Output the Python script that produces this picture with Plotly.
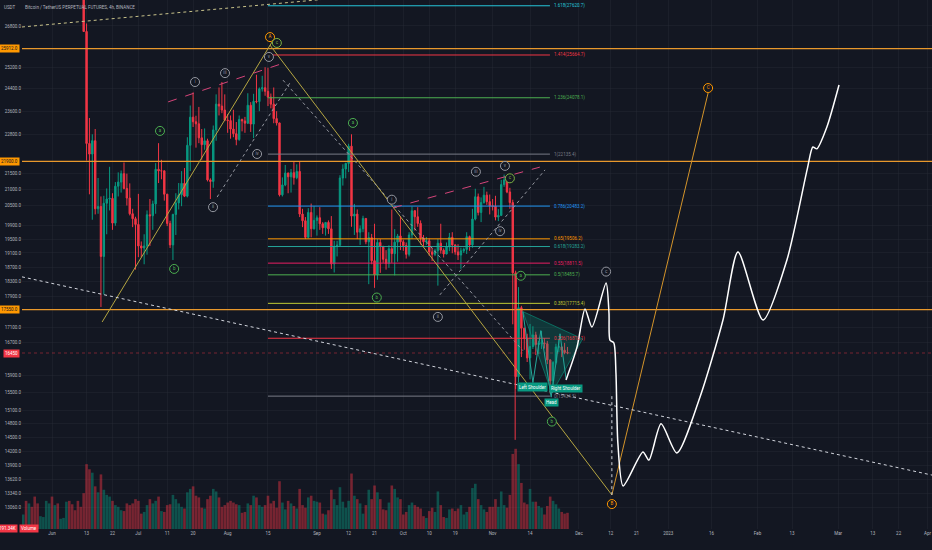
import numpy as np
import pandas as pd
import plotly.graph_objects as go

BG = "#131722"
UP = "#089981"
DOWN = "#f23645"
TXT = "#b2b5be"

# daily candles, 22 May -> 27 Nov 2022 (USDT)
dates = pd.date_range("2022-05-22", "2022-11-27", freq="D")
first_open = 29440
close = [
    30290, 29100, 29650, 29540, 29200, 28620, 29020, 29450, 31720, 31800,
    29800, 30440, 29700, 29860, 29900, 31370, 31130, 30200, 30100, 29100, 28400, 26580, 22490, 22136, 22583,
    20400, 20470, 19000, 20570, 20700, 20720, 19970, 21100, 21230, 21500, 21030, 20730, 20250, 20100, 19930,
    19300, 19240, 19300, 20220, 20190, 20550, 21640, 21590, 21590, 20850, 19960, 19330, 20230, 20580, 20830,
    21190, 20790, 22430, 23390, 23230, 23160, 22680, 22450, 22580, 21300, 21250, 22950, 23850, 23780, 23640, 23290,
    23270, 22980, 22820, 22620, 23310, 23260, 23180, 23810, 23150, 23950, 23940, 24400, 24440, 24310, 24100,
    23850, 23340, 23190, 20830, 21140, 21520, 21400, 21530, 21370, 21570, 20240, 20040, 19550, 20290, 19800, 20050,
    20130, 19950, 19830, 19990, 19800, 18790, 19290, 19320, 21360, 21650, 21830, 22400, 20180, 20240, 19700,
    19800, 20110, 19420, 19540, 18880, 18490, 19400, 19290, 18920, 18800, 19220, 19080, 19410, 19590, 19420,
    19310, 19060, 19620, 20340, 20160, 19960, 19530, 19420, 19450, 19130, 19060, 19160, 19380, 19180, 19070,
    19270, 19550, 19330, 19130, 19040, 19160, 19200, 19570, 19330, 20090, 20770, 20290, 20590, 20820, 20620, 20490,
    20480, 20150, 20200, 21150, 21300, 20920, 20590, 18540, 15880, 17600, 17070, 16810, 16330, 16610, 16900,
    16660, 16690, 16700, 16680, 16280, 15780, 16220, 16600, 16600, 16520, 16460, 16450,
]
high = [
    30480, 30670, 29830, 30220, 29860, 29380, 29200, 29550, 32200, 32400,
    31980, 30650, 30680, 29930, 30170, 31760, 31570, 31330, 30680, 30350, 29440, 28550, 26900, 23360, 22800,
    22980, 21360, 20780, 20800, 21030, 21720, 20880, 21230, 21540, 21600, 21860, 21500, 21190, 20400, 20160,
    20860, 19430, 19640, 20350, 20700, 20650, 21840, 22500, 21950, 21600, 20860, 20040, 20250, 20880, 21200,
    21580, 21680, 22700, 23800, 24270, 23440, 23750, 22980, 23000, 22650, 21350, 23100, 24200, 24450, 24650, 24200,
    23500, 23450, 23650, 23220, 23450, 23340, 23400, 24240, 23920, 24220, 24920, 24450, 24880, 25200, 25180,
    24230, 24450, 23600, 23200, 21380, 21780, 21530, 21650, 21900, 21800, 21880, 20400, 20150, 20420, 20560, 20480,
    20200, 20450, 20000, 20000, 20050, 20180, 19450, 19450, 21450, 21800, 21850, 22480, 22800, 20550, 20380,
    19900, 20190, 20110, 19700, 19650, 19950, 19500, 19500, 19300, 19180, 19320, 20380, 19790, 19650, 20180,
    19480, 19400, 19700, 20470, 20360, 20450, 20050, 19620, 19560, 19520, 19250, 19220, 19500, 19950, 19230,
    19400, 19680, 19700, 19350, 19350, 19250, 19250, 19700, 19600, 20400, 21020, 20870, 20750, 21080, 20930, 20840,
    20700, 20800, 20390, 21300, 21470, 21370, 21050, 20680, 18600, 18150, 17650, 17080, 16930, 17180, 17120,
    16980, 16750, 17000, 16820, 16750, 16300, 16250, 16680, 16800, 16610, 16700, 16600,
]
low = [
    29460, 28900, 28650, 29300, 28020, 28250, 28560, 28820, 29300, 31200,
    29300, 29580, 29280, 29480, 29500, 29880, 29230, 29850, 29950, 28860, 28100, 26560, 21925, 20846, 20070,
    20230, 20250, 17620, 17950, 19640, 20350, 19770, 19890, 20780, 20900, 21000, 20500, 20200, 19850, 18630,
    18980, 18980, 18780, 19050, 19300, 19770, 20250, 21200, 21320, 20650, 19880, 19240, 18900, 19620, 20380,
    20480, 20760, 20750, 21580, 23050, 22350, 22500, 21950, 22280, 21250, 20700, 21050, 22580, 23450, 23530, 23250,
    22850, 22650, 22700, 22430, 22580, 22900, 22850, 23150, 22880, 22670, 23880, 23600, 24300, 24150, 23780,
    23700, 23180, 23100, 20780, 20780, 21100, 20880, 20900, 21150, 21320, 20150, 19850, 19500, 19520, 19550, 19780,
    19600, 19770, 19650, 19600, 19650, 18650, 18550, 19000, 19300, 21120, 21350, 21550, 19860, 19620, 19500,
    19330, 19700, 19350, 18230, 18780, 18130, 18350, 18540, 18820, 18630, 18680, 18820, 18470, 18850, 19180,
    19160, 18940, 19000, 19500, 19750, 19860, 19340, 19270, 19330, 19020, 18870, 19010, 18190, 19080, 18970,
    19060, 19150, 19090, 19050, 18900, 18650, 19100, 19070, 19160, 19250, 20050, 20200, 20000, 20560, 20520, 20230,
    20350, 20050, 20030, 20180, 21080, 20880, 20400, 17170, 15590, 15750, 16350, 16530, 16230, 15815, 16550,
    16400, 16420, 16550, 16560, 16180, 15480, 15630, 16170, 16470, 16350, 16420, 16420,
]
volume_k = [
    170, 330, 300, 260, 380, 300, 150, 140, 330, 300,
    380, 280, 300, 120, 130, 320, 330, 290, 220, 330, 260, 420, 760, 700, 660,
    500, 430, 640, 460, 400, 380, 330, 280, 260, 220, 210, 300, 280, 300, 350,
    330, 180, 200, 280, 350, 300, 330, 380, 210, 200, 280, 290, 400, 350, 300,
    260, 240, 430, 470, 500, 390, 370, 250, 240, 350, 390, 470, 440, 370, 260, 280,
    310, 330, 310, 290, 280, 190, 200, 300, 280, 390, 370, 280, 260, 280, 390,
    300, 330, 250, 560, 310, 230, 330, 300, 270, 240, 470, 280, 250, 370, 390, 330,
    320, 310, 180, 170, 220, 460, 350, 280, 490, 320, 250, 330, 650, 390, 350,
    300, 180, 280, 460, 350, 510, 430, 350, 230, 220, 310, 510, 470, 370, 350,
    170, 200, 280, 310, 280, 260, 240, 150, 130, 210, 250, 200, 440, 280, 140,
    130, 230, 240, 210, 240, 280, 170, 200, 260, 480, 530, 350, 280, 230, 200, 260,
    260, 350, 260, 440, 280, 250, 400, 880, 940, 760, 540, 310, 290, 470, 320,
    320, 270, 250, 170, 270, 380, 330, 290, 240, 200, 180, 190,
]
opens = [first_open] + close[:-1]

x_range = ["2022-05-21 14:00", "2023-04-02 14:00"]
y_range = [12650, 27860]

# key horizontal levels (orange) and last price
levels = [25912.0, 21900.0, 17550.0]
last_price = 16450.0

# fibonacci retracement
fib_start, fib_end = "2022-08-15", "2022-11-20 22:00"
fib_ratio = ["1.618", "1.414", "1.236", "1", "0.786", "0.65", "0.618", "0.55", "0.5", "0.382", "0.236", "0"]
fib_price = [27620.7, 25664.7, 24078.1, 22135.4, 20483.2, 19506.2, 19283.2, 18811.5, 18485.7, 17715.4, 16816.1, 15424.5]
fib_color = ["#26c6da", "#f23645", "#4caf50", "#787b86", "#2196f3", "#ff9800",
             "#26a69a", "#e91e63", "#4caf50", "#c0ca33", "#f23645", "#787b86"]

# trend / wave lines: (dates, prices, colour, dash)
trend_lines = [
    (["2022-06-18 10:00", "2022-08-16 10:00"], [17230, 26170], "#b5a642", "solid"),
    (["2022-08-15 16:00", "2022-12-12 10:00"], [26050, 13310], "#b5a642", "solid"),
    (["2022-12-12 10:00", "2023-01-14 20:00"], [13310, 24250], "#d4942a", "solid"),
    (["2022-07-11 08:00", "2022-08-21 14:00"], [23930, 25400], "#d6457a", "dash"),
    (["2022-09-27 10:00", "2022-11-17 10:00"], [20430, 21710], "#d6457a", "dash"),
    (["2022-07-28 08:00", "2022-08-22 14:00"], [20760, 24610], "#9598a1", "dot"),
    (["2022-08-20 05:00", "2022-11-11 12:00"], [24720, 16510], "#9598a1", "dot"),
    (["2022-10-13 16:00", "2022-11-19 05:00"], [17940, 21620], "#9598a1", "dot"),
    (["2022-05-21 14:00", "2023-04-02 14:00"], [18430, 13710], "#d1d4dc", "dot"),
    (["2022-05-21 14:00", "2022-09-12 12:00"], [26760, 27990], "#c8c28a", "dot"),
    (["2022-12-12 10:00", "2022-12-12 10:00"], [15424, 13310], "#d1d4dc", "dot"),
    (["2022-11-08 20:00", "2022-11-08 20:00"], [17660, 14450], "#f23645", "solid"),
]

# head & shoulders
hs_dates = ["2022-11-11 12:00", "2022-11-15 00:00", "2022-11-17 18:00", "2022-11-21 08:00",
            "2022-11-24 10:00", "2022-11-26 12:00"]
hs_prices = [17500, 15740, 17010, 15400, 16930, 15830]
tri_dates = ["2022-11-11 12:00", "2022-12-02 06:00", "2022-11-21 14:00", "2022-11-11 12:00"]
tri_prices = [17500, 16800, 15500, 17500]
hs_text = ["Left Shoulder", "Head", "Right Shoulder"]
hs_x = ["2022-11-15", "2022-11-21 14:00", "2022-11-26 12:00"]
hs_y = [15640, 15280, 15600]

# projected path
proj_dates = ["2022-11-26 12:00", "2022-11-30 08:00", "2022-12-03 02:00", "2022-12-05 12:00",
              "2022-12-10 10:00", "2022-12-11 10:00", "2022-12-11 18:00", "2022-12-13 02:00",
              "2022-12-13 20:00", "2022-12-14 12:00", "2022-12-16 08:00", "2022-12-23 05:00",
              "2022-12-25 07:00", "2022-12-29 12:00", "2023-01-04 00:00", "2023-01-12 00:00",
              "2023-01-20 00:00", "2023-01-25 05:00", "2023-02-02 22:00", "2023-02-11 05:00",
              "2023-02-18 05:00", "2023-02-20 05:00", "2023-02-21 14:00", "2023-02-25 02:00",
              "2023-03-01 07:00"]
proj_prices = [15800, 16600, 17570, 17100, 18260, 17460, 16770, 16700, 15970, 14380, 13490, 14190,
               14020, 14800, 14170, 15400, 17280, 19130, 17280, 18900, 21620, 22370, 22310, 23050, 24540]

# elliott wave labels
wave_text = ["A", "c", "v", "iii", "i", "a", "ii", "iv", "b", "a", "i", "b", "ii", "iii", "v", "c",
             "iv", "a", "b", "c", "B", "C"]
wave_x = ["2022-08-15 17:00", "2022-08-18 02:00", "2022-08-15 08:00", "2022-07-31 02:00",
          "2022-07-20 16:00", "2022-07-08 12:00", "2022-07-26 22:00", "2022-08-11 05:00",
          "2022-07-13 10:00", "2022-09-13 12:00", "2022-09-27", "2022-09-21 19:00",
          "2022-10-13", "2022-10-26 05:00", "2022-11-05 07:00", "2022-11-07",
          "2022-11-03 14:00", "2022-11-10 19:00", "2022-11-21 14:00", "2022-12-10 10:00",
          "2022-12-12 10:00", "2023-01-14 20:00"]
wave_y = [26360, 26130, 25590, 24980, 24650, 22915, 20450, 22140, 18650, 23190, 20680, 17870,
          17360, 21560, 21750, 21350, 19730, 18460, 14850, 18575, 13130, 24430]
wave_color = ["#ff9800", "#7cb342", "#9598a1", "#9598a1", "#9598a1", "#4caf50", "#9598a1", "#9598a1",
              "#4caf50", "#4caf50", "#9598a1", "#4caf50", "#9598a1", "#9598a1", "#9598a1", "#7cb342",
              "#9598a1", "#4caf50", "#4caf50", "#9598a1", "#ff9800", "#ff9800"]

tick_dates = ["2022-06-01", "2022-06-13", "2022-06-22", "2022-07-01", "2022-07-11", "2022-07-20",
              "2022-08-01", "2022-08-15", "2022-09-01", "2022-09-12", "2022-09-21", "2022-10-01",
              "2022-10-10", "2022-10-19", "2022-11-01", "2022-11-14", "2022-12-01", "2022-12-12",
              "2022-12-21", "2023-01-01", "2023-01-16", "2023-02-01", "2023-02-13", "2023-03-01",
              "2023-03-13", "2023-03-22", "2023-04-01"]
tick_text = ["Jun", "13", "22", "Jul", "11", "20", "Aug", "15", "Sep", "12", "21", "Oct", "10", "19",
             "Nov", "14", "Dec", "12", "21", "2023", "16", "Feb", "13", "Mar", "13", "22", "Apr"]
price_ticks = [26800, 25200, 24400, 23600, 22800, 21500, 21000, 20500, 19900, 19500, 19100, 18700,
               18300, 17900, 17100, 16700, 15900, 15500, 15100, 14800, 14500, 14200, 13900, 13620,
               13340, 13060]

fig = go.Figure()

vol_colors = ["rgba(8,153,129,0.45)" if c >= o else "rgba(242,54,69,0.45)" for o, c in zip(opens, close)]
fig.add_trace(go.Bar(x=dates, y=volume_k, marker_color=vol_colors, marker_line_width=0, yaxis="y2"))

fig.add_trace(go.Candlestick(
    x=dates, open=opens, high=high, low=low, close=close,
    increasing=dict(line=dict(color=UP, width=1), fillcolor=UP),
    decreasing=dict(line=dict(color=DOWN, width=1), fillcolor=DOWN),
    whiskerwidth=0,
))

# orange levels + last price line
for lv in levels:
    fig.add_trace(go.Scatter(x=x_range, y=[lv, lv], mode="lines", line=dict(color="#e8982c", width=1.3)))
fig.add_trace(go.Scatter(x=x_range, y=[last_price, last_price], mode="lines",
                         line=dict(color="rgba(242,54,69,0.45)", width=1, dash="dot")))

# fib levels
for r, p, c in zip(fib_ratio, fib_price, fib_color):
    fig.add_trace(go.Scatter(x=[fib_start, fib_end], y=[p, p], mode="lines", line=dict(color=c, width=1)))
    fig.add_annotation(x=fib_end, y=np.log10(p), text=f"{r}({p})", showarrow=False,
                       xanchor="left", xshift=2, font=dict(size=4.5, color=c))

for xs, ys, c, d in trend_lines:
    fig.add_trace(go.Scatter(x=xs, y=ys, mode="lines", line=dict(color=c, width=1, dash=d)))

fig.add_trace(go.Scatter(x=tri_dates, y=tri_prices, mode="lines", fill="toself",
                         fillcolor="rgba(8,153,129,0.25)", line=dict(color="rgba(8,153,129,0.6)", width=1)))
fig.add_trace(go.Scatter(x=hs_dates, y=hs_prices, mode="lines", line=dict(color="#26a69a", width=1)))

fig.add_trace(go.Scatter(x=proj_dates, y=proj_prices, mode="lines",
                         line=dict(color="#ffffff", width=1.5, shape="spline", smoothing=0.7)))

fig.add_trace(go.Scatter(
    x=wave_x, y=wave_y, mode="markers+text", text=wave_text, textposition="middle center",
    textfont=dict(size=4.5, color=wave_color),
    marker=dict(symbol="circle", size=9, color=BG, line=dict(color=wave_color, width=1)),
))

for t, x, y in zip(hs_text, hs_x, hs_y):
    fig.add_annotation(x=x, y=np.log10(y), text=t, showarrow=False, bgcolor=UP,
                       font=dict(size=4.5, color="#ffffff"), borderpad=1)

# price-scale tags on the left
for lv in levels:
    fig.add_annotation(xref="paper", x=0, xanchor="right", xshift=-2, y=np.log10(lv), text=f"{lv:.1f}",
                       showarrow=False, bgcolor="#ff9800", font=dict(size=4.5, color=BG), borderpad=1)
fig.add_annotation(xref="paper", x=0, xanchor="right", xshift=-2, y=np.log10(last_price),
                   text=f"{last_price:.0f}", showarrow=False, bgcolor=DOWN,
                   font=dict(size=4.5, color="#ffffff"), borderpad=1)
fig.add_annotation(xref="paper", yref="paper", x=0, xanchor="right", xshift=-4, y=0, yanchor="bottom",
                   yshift=-4, text="191.34K", showarrow=False, bgcolor=DOWN,
                   font=dict(size=4.5, color="#ffffff"), borderpad=1)
fig.add_annotation(xref="paper", yref="paper", x=0, xanchor="left", xshift=-3, y=0, yanchor="bottom",
                   yshift=-4, text="Volume", showarrow=False, bgcolor=DOWN,
                   font=dict(size=4.5, color="#ffffff"), borderpad=1)
fig.add_annotation(xref="paper", yref="paper", x=0, xanchor="right", xshift=-5, y=1, yanchor="top",
                   yshift=-3, text="USDT", showarrow=False, font=dict(size=4.5, color=TXT))
fig.add_annotation(xref="paper", yref="paper", x=0, xanchor="left", xshift=1, y=1, yanchor="top",
                   yshift=-3, text="Bitcoin / TetherUS PERPETUAL FUTURES, 4h, BINANCE",
                   showarrow=False, font=dict(size=4.5, color=TXT))

fig.update_layout(
    width=932, height=550,
    margin=dict(l=22, r=0, t=0, b=21),
    paper_bgcolor=BG, plot_bgcolor=BG,
    font=dict(family="Roboto", color=TXT),
    showlegend=False, hovermode=False, bargap=0.1,
    xaxis=dict(range=x_range, rangeslider=dict(visible=False), tickvals=tick_dates, ticktext=tick_text,
               tickfont=dict(size=4.5, color=TXT), showgrid=True, gridcolor="rgba(42,46,57,0.35)",
               zeroline=False, showline=False, ticks="", automargin=False),
    yaxis=dict(type="log", range=[np.log10(y_range[0]), np.log10(y_range[1])], side="left",
               tickvals=price_ticks, ticktext=[f"{v:.1f}" for v in price_ticks],
               tickfont=dict(size=4.5, color=TXT), showgrid=True, gridcolor="rgba(42,46,57,0.35)",
               zeroline=False, showline=False, ticks="", automargin=False),
    yaxis2=dict(overlaying="y", range=[0, 6200], visible=False),
)

# page has a default 8px body margin; drop it so the chart sits at the window's corner
fig.write_html("out.html", config={"displayModeBar": False},
               post_script="document.body.style.margin='0';document.body.style.background='#131722';")
